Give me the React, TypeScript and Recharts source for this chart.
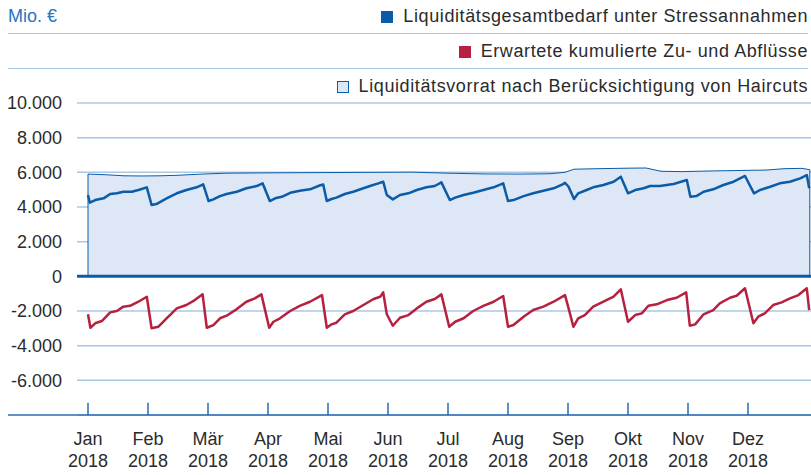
import React from "react";
import {
  ComposedChart,
  Area,
  Line,
  XAxis,
  YAxis,
  CartesianGrid,
  ReferenceLine,
  Legend,
} from "recharts";

const months = ["Jan", "Feb", "Mär", "Apr", "Mai", "Jun", "Jul", "Aug", "Sep", "Okt", "Nov", "Dez"];
const year = "2018";
const yTicks = [-6000, -4000, -2000, 0, 2000, 4000, 6000, 8000, 10000];

// x in months since 1 Jan 2018
const stressX = [
  0, 0.03, 0.12, 0.26, 0.37, 0.48, 0.59, 0.73, 0.84, 0.98,
  1.06, 1.14, 1.31, 1.48, 1.64, 1.81, 1.92,
  2.01, 2.09, 2.2, 2.31, 2.48, 2.64, 2.81, 2.91,
  3.03, 3.12, 3.23, 3.37, 3.53, 3.7, 3.86, 3.92,
  3.98, 4.06, 4.14, 4.28, 4.42, 4.59, 4.7, 4.84, 4.92,
  4.98, 5.08, 5.2, 5.34, 5.48, 5.64, 5.78, 5.89,
  6.03, 6.12, 6.26, 6.42, 6.59, 6.76, 6.92,
  7.0, 7.09, 7.26, 7.42, 7.59, 7.76, 7.92, 7.95,
  8.01, 8.1, 8.17, 8.31, 8.42, 8.59, 8.76, 8.88,
  9.0, 9.12, 9.26, 9.37, 9.53, 9.76, 9.98,
  10.04, 10.14, 10.26, 10.42, 10.59, 10.76, 10.95,
  11.1, 11.2, 11.37, 11.53, 11.7, 11.87, 11.98, 12.02,
];
const stressValues = [
  4690, 4250, 4400, 4500, 4750, 4790, 4880, 4880, 4980, 5135,
  4115, 4170, 4500, 4790, 4980, 5135, 5310,
  4345, 4440, 4630, 4750, 4880, 5080, 5210, 5365,
  4345, 4500, 4590, 4820, 4940, 5020, 5240, 5300,
  4345, 4460, 4540, 4750, 4880, 5080, 5210, 5365, 5460,
  4690, 4440, 4690, 4790, 4980, 5135, 5210, 5420,
  4400, 4540, 4690, 4820, 4980, 5135, 5365,
  4345, 4400, 4630, 4790, 4940, 5080, 5325, 5400,
  5170, 4460, 4790, 4980, 5135, 5270, 5460, 5750,
  4790, 4980, 5080, 5210, 5210, 5325, 5560,
  4590, 4630, 4880, 5020, 5270, 5460, 5790,
  4790, 4980, 5170, 5365, 5460, 5655, 5845, 5080,
];

const flowX = [
  0, 0.04, 0.12, 0.23, 0.37, 0.48, 0.59, 0.7, 0.84, 0.98,
  1.06, 1.17, 1.31, 1.48, 1.64, 1.78, 1.91,
  1.98, 2.09, 2.2, 2.31, 2.48, 2.64, 2.78, 2.89,
  3.02, 3.09, 3.2, 3.37, 3.53, 3.7, 3.9,
  3.98, 4.06, 4.14, 4.28, 4.42, 4.59, 4.76, 4.87, 4.92,
  4.98, 5.08, 5.2, 5.34, 5.48, 5.64, 5.78, 5.89,
  6.02, 6.12, 6.26, 6.42, 6.59, 6.76, 6.92,
  7.0, 7.09, 7.26, 7.42, 7.59, 7.76, 7.95,
  8.01, 8.09, 8.17, 8.28, 8.42, 8.59, 8.76, 8.88,
  9.0, 9.12, 9.23, 9.34, 9.48, 9.65, 9.81, 9.97,
  10.03, 10.12, 10.26, 10.42, 10.53, 10.7, 10.81, 10.95,
  11.09, 11.17, 11.28, 11.42, 11.56, 11.7, 11.84, 11.98, 12.02,
];
const flowValues = [
  -2190, -2965, -2710, -2580, -2080, -2000, -1750, -1700, -1465, -1175,
  -3000, -2910, -2420, -1850, -1655, -1370, -1040,
  -2965, -2810, -2420, -2270, -1890, -1465, -1270, -1040,
  -2965, -2620, -2420, -2000, -1700, -1465, -1080,
  -2965, -2770, -2675, -2190, -2000, -1655, -1310, -1175, -925,
  -2190, -2850, -2390, -2235, -1850, -1465, -1310, -1040,
  -2910, -2620, -2420, -2000, -1700, -1465, -1135,
  -2910, -2810, -2330, -1945, -1750, -1465, -1080,
  -1850, -2910, -2420, -2235, -1750, -1465, -1175, -750,
  -2620, -2235, -2135, -1700, -1615, -1370, -1235, -925,
  -2850, -2770, -2190, -1945, -1560, -1235, -1120, -690,
  -2710, -2330, -2135, -1655, -1500, -1270, -1080, -690, -1945,
];

const reserveX = [
  0, 0.3, 0.6, 0.9, 1.2, 1.5, 1.9, 2.3, 3.0, 3.6, 4.2, 4.8, 5.4, 6.0, 6.6,
  7.2, 7.7, 7.95, 8.1, 8.5, 9.0, 9.3, 9.55, 9.9, 10.4, 10.9, 11.3, 11.6, 11.9, 12.03,
];
const reserveValues = [
  5900, 5860, 5800, 5790, 5800, 5830, 5900, 5950, 5970, 5980, 5990, 6000, 6010, 5950, 5910,
  5900, 5920, 6000, 6180, 6210, 6240, 6250, 6060, 6040, 6080, 6110, 6130, 6210, 6230, 6150,
];

const BLUE = "#0b5ca8";
const RED = "#b5213f";
const AREA_FILL = "#dde7f5";
const GRID = "#a9c8e8";
const AXIS = "#2a6db0";
const TEXT = "#2b2b2b";
const FONT = "'Liberation Sans', Arial, sans-serif";

const legendItems = [
  { label: "Liquiditätsgesamtbedarf unter Stressannahmen", fill: BLUE, border: BLUE },
  { label: "Erwartete kumulierte Zu- und Abflüsse", fill: RED, border: RED },
  { label: "Liquiditätsvorrat nach Berücksichtigung von Haircuts", fill: AREA_FILL, border: BLUE },
];

const stressData = stressX.map((x, i) => ({ x, v: stressValues[i] }));
const flowData = flowX.map((x, i) => ({ x, v: flowValues[i] }));
const reserveData = [
  { x: reserveX[0], v: 0 },
  ...reserveX.map((x, i) => ({ x, v: reserveValues[i] })),
  { x: reserveX[reserveX.length - 1], v: 0 },
];

const fmt = (v: number) =>
  (v < 0 ? "-" : "") + String(Math.abs(v)).replace(/\B(?=(\d{3})+(?!\d))/g, ".");

function LegendBlock() {
  return (
    <div style={{ position: "relative", width: 811, height: 103, fontFamily: FONT, color: TEXT }}>
      <div style={{ position: "absolute", left: 8, top: 6, fontSize: 18, color: "#2a73c0" }}>Mio. €</div>
      {legendItems.map((item, i) => (
        <div
          key={item.label}
          style={{
            position: "absolute",
            left: 8,
            right: 3,
            top: i * 35,
            height: 33,
            borderBottom: i < 2 ? `1.5px solid ${GRID}` : "none",
            display: "flex",
            justifyContent: "flex-end",
            alignItems: "center",
            fontSize: 18,
            letterSpacing: 0.6,
          }}
        >
          <span
            style={{
              width: 10,
              height: 10,
              background: item.fill,
              border: `1px solid ${item.border}`,
              marginRight: 10,
            }}
          />
          <span>{item.label}</span>
        </div>
      ))}
    </div>
  );
}

function MonthTick(props: any) {
  const { x, y, payload } = props;
  return (
    <text x={x} y={y} textAnchor="middle" fontSize={18} fill={TEXT} fontFamily={FONT}>
      <tspan x={x} dy={30}>{months[payload.value]}</tspan>
      <tspan x={x} dy={22}>{year}</tspan>
    </text>
  );
}

export default function App() {
  return (
    <div style={{ width: 811, height: 475, background: "#fff" }}>
      <style>{"body{margin:0}"}</style>
      <ComposedChart width={811} height={475} margin={{ top: 103, right: 0, bottom: 0, left: 0 }}>
        <CartesianGrid vertical={false} stroke={GRID} strokeWidth={1.5} />
        <XAxis
          type="number"
          dataKey="x"
          domain={[-11 / 60, 12.05]}
          ticks={months.map((_, i) => i)}
          interval={0}
          height={60}
          axisLine={false}
          tickLine={false}
          tickSize={0}
          tickMargin={0}
          tick={<MonthTick />}
          allowDataOverflow
        />
        <YAxis
          type="number"
          domain={[-8000, 10000]}
          ticks={yTicks}
          width={77}
          axisLine={false}
          tickLine={false}
          tickSize={0}
          tickMargin={15}
          tickFormatter={fmt}
          tick={{ fontSize: 18, fill: TEXT, fontFamily: FONT }}
          interval={0}
        />
        <Legend
          layout="horizontal"
          align="center"
          verticalAlign="middle"
          wrapperStyle={{ top: 0, left: 0, width: 811, height: 103 }}
          content={() => <LegendBlock />}
        />
        <Area
          data={reserveData}
          dataKey="v"
          type="linear"
          baseValue={0}
          fill={AREA_FILL}
          fillOpacity={1}
          stroke={BLUE}
          strokeWidth={1}
          isAnimationActive={false}
          legendType="none"
        />
        <ReferenceLine y={0} stroke={BLUE} strokeWidth={3} />
        <ReferenceLine
          segment={[{ x: -80 / 60, y: -8000 }, { x: 12.05, y: -8000 }]}
          stroke={AXIS}
          strokeWidth={1.5}
          ifOverflow="visible"
        />
        {months.map((m, i) => (
          <ReferenceLine
            key={m}
            segment={[{ x: i, y: -8000 }, { x: i, y: -7300 }]}
            stroke={AXIS}
            strokeWidth={1.5}
            ifOverflow="visible"
          />
        ))}
        <Line
          data={flowData}
          dataKey="v"
          type="linear"
          stroke={RED}
          strokeWidth={2.5}
          strokeLinejoin="round"
          dot={false}
          isAnimationActive={false}
          legendType="none"
        />
        <Line
          data={stressData}
          dataKey="v"
          type="linear"
          stroke={BLUE}
          strokeWidth={2.5}
          strokeLinejoin="round"
          dot={false}
          isAnimationActive={false}
          legendType="none"
        />
      </ComposedChart>
    </div>
  );
}
